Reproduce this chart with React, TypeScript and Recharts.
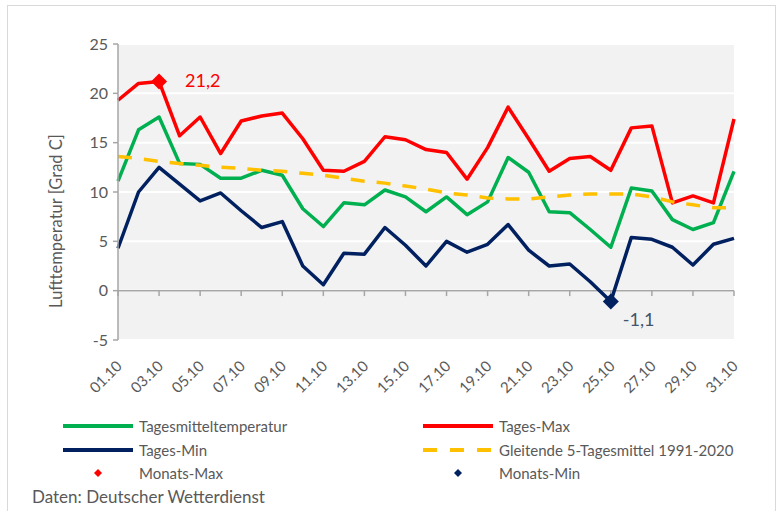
import React from "react";
import {
  ComposedChart,
  Line,
  XAxis,
  YAxis,
  CartesianGrid,
  ReferenceLine,
} from "recharts";

const days = [
  "01.10", "02.10", "03.10", "04.10", "05.10", "06.10", "07.10", "08.10",
  "09.10", "10.10", "11.10", "12.10", "13.10", "14.10", "15.10", "16.10",
  "17.10", "18.10", "19.10", "20.10", "21.10", "22.10", "23.10", "24.10",
  "25.10", "26.10", "27.10", "28.10", "29.10", "30.10", "31.10",
];

const tagesMittel = [
  11.1, 16.3, 17.6, 12.9, 12.8, 11.4, 11.4, 12.2, 11.7, 8.3, 6.5, 8.9, 8.7,
  10.2, 9.5, 8.0, 9.5, 7.7, 9.0, 13.5, 12.0, 8.0, 7.9, 6.2, 4.4, 10.4, 10.1,
  7.2, 6.2, 6.9, 12.1,
];

const tagesMax = [
  19.3, 21.0, 21.2, 15.7, 17.6, 13.9, 17.2, 17.7, 18.0, 15.4, 12.2, 12.1, 13.1,
  15.6, 15.3, 14.3, 14.0, 11.3, 14.5, 18.6, 15.4, 12.1, 13.4, 13.6, 12.2, 16.5,
  16.7, 8.9, 9.6, 8.9, 17.4,
];

const tagesMin = [
  4.3, 10.0, 12.5, 10.8, 9.1, 9.9, 8.1, 6.4, 7.0, 2.5, 0.6, 3.8, 3.7, 6.4, 4.6,
  2.5, 5.0, 3.9, 4.7, 6.7, 4.1, 2.5, 2.7, 0.9, -1.1, 5.4, 5.2, 4.4, 2.6, 4.7,
  5.3,
];

const gleitend = [
  13.6, 13.4, 13.1, 12.9, 12.7, 12.5, 12.4, 12.2, 12.1, 11.9, 11.7, 11.4, 11.1,
  10.9, 10.6, 10.3, 9.9, 9.7, 9.4, 9.3, 9.3, 9.5, 9.7, 9.8, 9.8, 9.8, 9.5, 9.0,
  8.7, 8.4, 8.4,
];

const monatsMax = { day: "03.10", value: 21.2 };
const monatsMin = { day: "25.10", value: -1.1 };

const yTicks = [-5, 0, 5, 10, 15, 20, 25];

const data = days.map((day, i) => ({
  day,
  mittel: tagesMittel[i],
  max: tagesMax[i],
  min: tagesMin[i],
  gleitend: gleitend[i],
  monatsMax: day === monatsMax.day ? monatsMax.value : null,
  monatsMin: day === monatsMin.day ? monatsMin.value : null,
}));

const labeledDays = days.filter((_, i) => i % 2 === 0);

const AXIS = "#a6a6a6";
const TEXT = "#595959";
const FONT = "Lato, 'Open Sans', sans-serif";

const fmt = (v: number) => v.toFixed(1).replace(".", ",");

function XTick({ x, y, payload }: any) {
  const ax = x + 5;
  const ay = y + 19;
  return (
    <text
      x={ax}
      y={ay}
      transform={`rotate(-45 ${ax} ${ay})`}
      textAnchor="end"
      fontSize={15}
      fill={TEXT}
      fontFamily={FONT}
    >
      {payload.value}
    </text>
  );
}

function diamondDot(color: string, labelColor: string, dx: number, dy: number) {
  return (props: any) => {
    const { cx, cy, value, index } = props;
    if (value == null || cx == null || cy == null) return <g key={index} />;
    const r = 8;
    return (
      <g key={index}>
        <path
          d={`M${cx},${cy - r} L${cx + r},${cy} L${cx},${cy + r} L${cx - r},${cy} Z`}
          fill={color}
        />
        <text
          x={cx + dx}
          y={cy + dy}
          fontSize={18}
          fill={labelColor}
          fontFamily={FONT}
        >
          {fmt(value)}
        </text>
      </g>
    );
  };
}

function LegendLine({ color, dashed }: { color: string; dashed?: boolean }) {
  return (
    <svg width={70} height={6} style={{ display: "block" }}>
      <line
        x1={0}
        y1={3}
        x2={70}
        y2={3}
        stroke={color}
        strokeWidth={4}
        strokeDasharray={dashed ? "14 13" : undefined}
        strokeLinecap={dashed ? "butt" : "round"}
      />
    </svg>
  );
}

function LegendDiamond({ color }: { color: string }) {
  return (
    <svg width={8} height={8} style={{ display: "block" }}>
      <path d="M4,0 L8,4 L4,8 L0,4 Z" fill={color} />
    </svg>
  );
}

const legendItems = [
  { name: "Tagesmitteltemperatur", color: "#00b050", col: 0, row: 0, kind: "line" },
  { name: "Tages-Max", color: "#ff0000", col: 1, row: 0, kind: "line" },
  { name: "Tages-Min", color: "#002060", col: 0, row: 1, kind: "line" },
  { name: "Gleitende 5-Tagesmittel 1991-2020", color: "#ffc000", col: 1, row: 1, kind: "dash" },
  { name: "Monats-Max", color: "#ff0000", col: 0, row: 2, kind: "diamond" },
  { name: "Monats-Min", color: "#002060", col: 1, row: 2, kind: "diamond" },
];

export default function App() {
  const colX = [63, 423];
  const rowY = [426, 450, 473];
  return (
    <div
      style={{
        position: "absolute",
        left: 0,
        top: 0,
        width: 781,
        height: 511,
        background: "#fff",
        overflow: "hidden",
        fontFamily: FONT,
      }}
    >
      <div
        style={{
          position: "absolute",
          left: 7,
          top: 5,
          width: 767,
          height: 530,
          border: "1px solid #d9d9d9",
        }}
      />
      <div style={{ position: "absolute", left: 0, top: 0 }}>
        <ComposedChart
          width={781}
          height={511}
          data={data}
          margin={{ top: 44, right: 47, left: 58, bottom: 111 }}
        >
          <CartesianGrid
            vertical={false}
            stroke="#ffffff"
            strokeWidth={2}
            fill="#f2f2f2"
            fillOpacity={1}
          />
          <XAxis
            dataKey="day"
            interval={1}
            height={60}
            axisLine={false}
            tickLine={false}
            tick={<XTick />}
          />
          <YAxis
            width={60}
            domain={[-5, 25]}
            ticks={yTicks}
            interval={0}
            axisLine={{ stroke: AXIS, strokeWidth: 1.5 }}
            tickLine={{ stroke: AXIS, strokeWidth: 1.5 }}
            tickSize={5}
            tickMargin={5}
            tick={{ fill: TEXT, fontSize: 16, fontFamily: FONT }}
            label={{
              content: () => (
                <text
                  x={62}
                  y={221}
                  transform="rotate(-90 62 221)"
                  textAnchor="middle"
                  fontSize={16.5}
                  fill={TEXT}
                  fontFamily={FONT}
                >
                  Lufttemperatur [Grad C]
                </text>
              ),
            }}
          />
          <ReferenceLine y={0} stroke={AXIS} strokeWidth={1.5} />
          {labeledDays.map((d) => (
            <ReferenceLine
              key={d}
              segment={[
                { x: d, y: 0 },
                { x: d, y: -0.55 },
              ]}
              stroke={AXIS}
              strokeWidth={1.5}
            />
          ))}
          <Line
            dataKey="mittel"
            stroke="#00b050"
            strokeWidth={3.5}
            dot={false}
            strokeLinejoin="round"
            isAnimationActive={false}
          />
          <Line
            dataKey="max"
            stroke="#ff0000"
            strokeWidth={3.5}
            dot={false}
            strokeLinejoin="round"
            isAnimationActive={false}
          />
          <Line
            dataKey="min"
            stroke="#002060"
            strokeWidth={3.5}
            dot={false}
            strokeLinejoin="round"
            isAnimationActive={false}
          />
          <Line
            dataKey="gleitend"
            stroke="#ffc000"
            strokeWidth={3.5}
            strokeDasharray="14 12"
            dot={false}
            isAnimationActive={false}
          />
          <Line
            dataKey="monatsMax"
            stroke="none"
            dot={diamondDot("#ff0000", "#ff0000", 26, 6)}
            activeDot={false}
            isAnimationActive={false}
          />
          <Line
            dataKey="monatsMin"
            stroke="none"
            dot={diamondDot("#002060", "#44546a", 12, 24)}
            activeDot={false}
            isAnimationActive={false}
          />
        </ComposedChart>
      </div>
      {legendItems.map((it) => (
        <div
          key={it.name}
          style={{
            position: "absolute",
            left: colX[it.col],
            top: rowY[it.row] - 10,
            height: 20,
            display: "flex",
            alignItems: "center",
            fontSize: 15,
            color: TEXT,
            whiteSpace: "nowrap",
          }}
        >
          <div style={{ width: 70, display: "flex", justifyContent: "center" }}>
            {it.kind === "diamond" ? (
              <LegendDiamond color={it.color} />
            ) : (
              <LegendLine color={it.color} dashed={it.kind === "dash"} />
            )}
          </div>
          <span style={{ marginLeft: 6 }}>{it.name}</span>
        </div>
      ))}
      <div
        style={{
          position: "absolute",
          left: 32,
          top: 486,
          fontSize: 17,
          color: TEXT,
          whiteSpace: "nowrap",
        }}
      >
        Daten: Deutscher Wetterdienst
      </div>
    </div>
  );
}
